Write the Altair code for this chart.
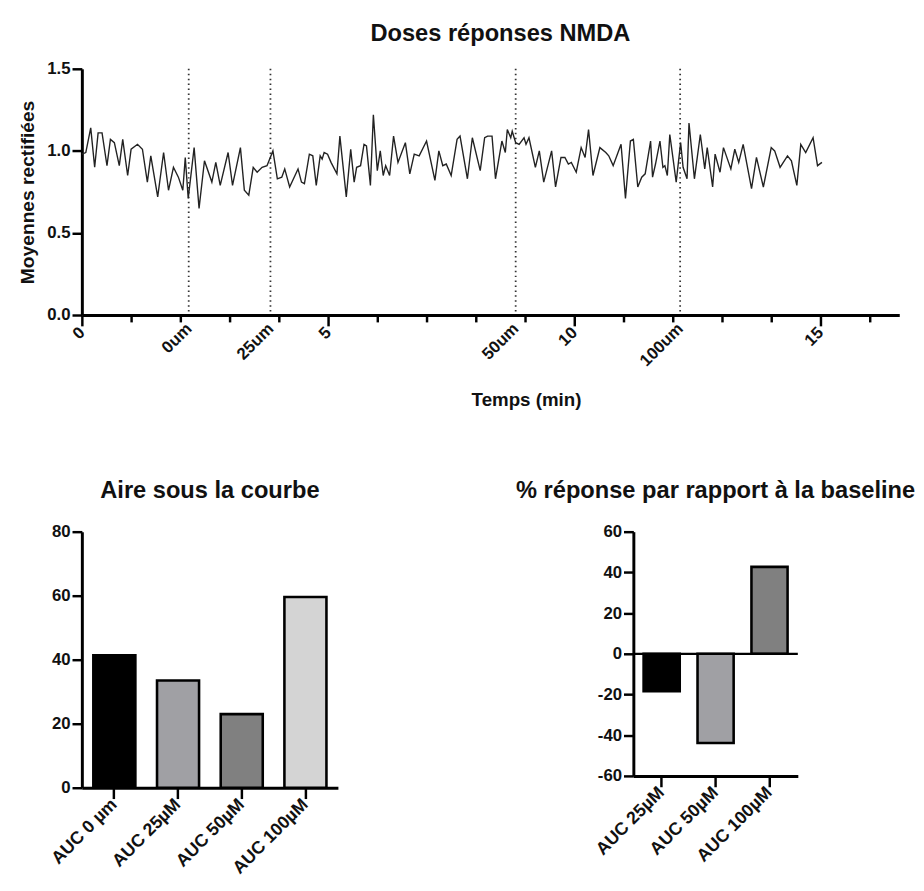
import altair as alt
import pandas as pd

FONT = "Liberation Sans"

# ---------------- top chart data ----------------
times = [0.0, 0.08, 0.18, 0.26, 0.33, 0.41, 0.51, 0.58, 0.66, 0.76, 0.83, 0.93, 1.00, 1.13, 1.23, 1.33, 1.40, 1.54, 1.66, 1.76, 1.86, 1.96, 2.05, 2.10, 2.16, 2.28, 2.38, 2.49,
         2.64, 2.72, 2.81, 2.97, 3.06, 3.22, 3.30, 3.39, 3.48, 3.56, 3.66, 3.76, 3.88, 3.97, 4.06, 4.12, 4.22, 4.39, 4.46, 4.52, 4.62, 4.69, 4.76, 4.84, 4.88, 4.92, 4.99, 5.06,
         5.18, 5.24, 5.37, 5.46, 5.53, 5.58, 5.66, 5.73, 5.78, 5.86, 5.92, 6.00, 6.06, 6.12, 6.17, 6.25, 6.33, 6.42, 6.57, 6.66, 6.75, 6.85, 7.00, 7.17, 7.25, 7.33, 7.40, 7.50, 7.62,
         7.68, 7.83, 7.93, 8.09, 8.18, 8.24, 8.33, 8.40, 8.53, 8.60, 8.64, 8.71, 8.74, 8.81, 8.88, 8.98, 9.02, 9.08, 9.21, 9.29, 9.38, 9.54, 9.62, 9.73, 9.81, 9.88, 9.94, 10.04, 10.14,
         10.22, 10.29, 10.38, 10.52, 10.64, 10.70, 10.79, 10.95, 11.04, 11.14, 11.20, 11.29, 11.37, 11.44, 11.55, 11.59, 11.65, 11.74, 11.80, 11.84, 11.89, 11.94, 12.07, 12.16, 12.21, 12.29, 12.33, 12.44, 12.56, 12.65, 12.70,
         12.81, 12.86, 12.96, 13.03, 13.18, 13.26, 13.34, 13.43, 13.60, 13.70, 13.84, 14.00, 14.07, 14.18, 14.33, 14.41, 14.52, 14.60, 14.70, 14.85, 14.94, 15.03]

values = [0.98, 0.99, 1.14, 0.90, 1.11, 1.11, 0.91, 1.07, 1.05, 0.91, 1.07, 0.85, 1.01, 1.04, 1.01, 0.81, 0.97, 0.72, 0.99, 0.76, 0.90, 0.84, 0.76, 0.96, 0.71, 1.02, 0.65, 0.94,
          0.81, 0.93, 0.79, 0.99, 0.79, 1.02, 0.76, 0.73, 0.90, 0.87, 0.90, 0.91, 1.00, 0.83, 0.84, 0.89, 0.78, 0.89, 0.81, 0.80, 0.98, 0.97, 0.79, 0.97, 0.95, 0.99, 0.98, 0.93,
          0.86, 1.09, 0.72, 1.01, 0.81, 0.90, 0.91, 1.04, 1.03, 0.79, 1.22, 0.88, 1.00, 0.85, 0.91, 0.85, 1.09, 0.93, 1.05, 0.86, 0.98, 0.97, 1.06, 0.82, 1.00, 0.91, 0.92, 0.85, 1.07,
          1.09, 0.83, 1.08, 0.88, 1.08, 1.09, 1.09, 0.83, 1.06, 0.99, 1.13, 1.08, 1.12, 1.05, 1.04, 1.08, 1.04, 1.08, 0.90, 1.00, 0.81, 1.00, 0.78, 0.96, 0.96, 0.92, 0.93, 0.87, 1.02,
          0.96, 1.13, 0.85, 1.02, 0.99, 0.97, 0.91, 1.04, 0.71, 1.06, 1.07, 0.78, 0.84, 0.86, 1.06, 0.84, 0.92, 1.06, 0.90, 0.91, 0.85, 1.10, 0.81, 1.05, 0.90, 0.83, 1.17, 0.83, 1.10, 0.89, 1.02,
          0.78, 0.98, 0.87, 1.02, 0.89, 1.01, 0.93, 1.04, 0.77, 0.96, 0.78, 1.02, 1.00, 0.90, 0.97, 0.94, 0.79, 1.04, 0.99, 1.08, 0.91, 0.93]

event_times = [2.17, 3.83, 8.81, 12.15]
event_labels = ["0um", "25um", "50um", "100um"]
minute_ticks = list(range(0, 17))
labelled_minutes = [0, 5, 10, 15]

# ---------------- bottom charts data ----------------
auc_labels = ["AUC 0 µm", "AUC 25µM", "AUC 50µM", "AUC 100µM"]
auc_values = [41.4, 33.5, 23.0, 59.6]
auc_colors = ["#000000", "#a0a0a4", "#808080", "#d4d4d4"]

pct_labels = ["AUC 25µM", "AUC 50µM", "AUC 100µM"]
pct_values = [-18.4, -43.8, 42.7]
pct_colors = ["#000000", "#a0a0a4", "#808080"]

assert len(times) == len(values)

line_df = pd.DataFrame({"t": times, "v": values})
event_df = pd.DataFrame({"t": event_times, "label": event_labels})

ev_arr = "[" + ",".join(str(e) for e in event_times) + "]"
lab_arr = "[" + ",".join("'" + l + "'" for l in event_labels) + "]"
lm_arr = "[" + ",".join(str(m) for m in labelled_minutes) + "]"
label_expr = (f"indexof({ev_arr}, datum.value) >= 0 ? {lab_arr}[indexof({ev_arr}, datum.value)] : "
              f"(indexof({lm_arr}, datum.value) >= 0 ? format(datum.value, 'd') : '')")

x_top = alt.X(
    "t:Q",
    scale=alt.Scale(domain=[0, 16.6], nice=False, zero=False),
    axis=alt.Axis(
        values=minute_ticks + event_times,
        labelExpr=label_expr,
        labelAngle=-45,
        labelAlign="right",
        labelBaseline="middle",
        labelOverlap=False,
        labelFlush=False,
        labelPadding=4,
        labelFontSize=17,
        tickSize={"condition": {"test": f"indexof({lm_arr}, datum.value) >= 0", "value": 11}, "value": 7},
        tickOpacity={"condition": {"test": f"indexof({ev_arr}, datum.value) >= 0", "value": 0}, "value": 1},
        title="Temps (min)",
        titleX=451,
        titlePadding=22,
        titleFontSize=19,
    ),
)

y_top = alt.Y(
    "v:Q",
    scale=alt.Scale(domain=[0, 1.5], nice=False),
    axis=alt.Axis(values=[0, 0.5, 1.0, 1.5], format=".1f", title="Moyennes rectifiées",
                  titleFontSize=19.5, titlePadding=9, tickSize=10),
)

line = alt.Chart(line_df).mark_line(color="#222222", strokeWidth=1.4).encode(x=x_top, y=y_top)
rules = alt.Chart(event_df).mark_rule(color="#333333", strokeWidth=1.8, strokeDash=[1.5, 3.5]).encode(x="t:Q")

top = alt.layer(rules, line).properties(
    width=830, height=250,
    title=alt.TitleParams("Doses réponses NMDA", fontSize=24, font=FONT, fontWeight="bold",
                          anchor="middle", dx=10, offset=14),
)

# ---------------- bottom left ----------------
auc_df = pd.DataFrame({"label": auc_labels, "value": auc_values, "color": auc_colors})
left = alt.Chart(auc_df).mark_bar(stroke="black", strokeWidth=2.6).encode(
    x=alt.X("label:N", sort=auc_labels,
            scale=alt.Scale(paddingInner=0.34, paddingOuter=0.18),
            axis=alt.Axis(title=None, labelAngle=-45, labelAlign="right", labelBaseline="middle",
                          tickSize=11, labelPadding=3, labelFontSize=18)),
    y=alt.Y("value:Q", scale=alt.Scale(domain=[0, 80], nice=False),
            axis=alt.Axis(values=[0, 20, 40, 60, 80], title=None, tickSize=10)),
    color=alt.Color("color:N", scale=None, legend=None),
).properties(
    width=260, height=260,
    title=alt.TitleParams("Aire sous la courbe", fontSize=24, font=FONT, fontWeight="bold",
                          anchor="middle", offset=20),
)

# ---------------- bottom right ----------------
pct_df = pd.DataFrame({"label": pct_labels, "value": pct_values, "color": pct_colors})
bars_r = alt.Chart(pct_df).mark_bar(stroke="black", strokeWidth=2.6).encode(
    x=alt.X("label:N", sort=pct_labels,
            scale=alt.Scale(paddingInner=0.33, paddingOuter=0.19),
            axis=alt.Axis(title=None, labelAngle=-45, labelAlign="right", labelBaseline="middle",
                          tickSize=11, labelPadding=3, labelFontSize=18)),
    y=alt.Y("value:Q", scale=alt.Scale(domain=[-60, 60], nice=False),
            axis=alt.Axis(values=[-60, -40, -20, 0, 20, 40, 60], title=None, tickSize=10,
                          labelExpr="datum.value < 0 ? '-' + abs(datum.value) : '' + datum.value")),
    color=alt.Color("color:N", scale=None, legend=None),
)
zero_df = pd.DataFrame({"z": [0]})
zero_rule = alt.Chart(zero_df).mark_rule(color="black", strokeWidth=2.2).encode(y="z:Q")
right = alt.layer(bars_r, zero_rule).properties(
    width=167, height=248,
    title=alt.TitleParams("% réponse par rapport à la baseline", fontSize=24, font=FONT,
                          fontWeight="bold", anchor="middle", offset=20),
)

bottom = alt.hconcat(left, right, spacing=180)

chart = alt.vconcat(top, bottom, spacing=71).configure(
    font=FONT,
    padding={"left": 10, "top": 8, "right": 0, "bottom": 0},
).configure_view(stroke=None).configure_axis(
    grid=False,
    domainColor="black",
    domainWidth=3,
    tickColor="black",
    tickWidth=2.5,
    labelFont=FONT,
    labelFontWeight="bold",
    labelFontSize=17,
    labelColor="#111111",
    titleFont=FONT,
    titleFontWeight="bold",
    titleColor="#111111",
).configure_title(color="#111111")

chart.save("out.html", embed_options={"renderer": "svg", "actions": False})
